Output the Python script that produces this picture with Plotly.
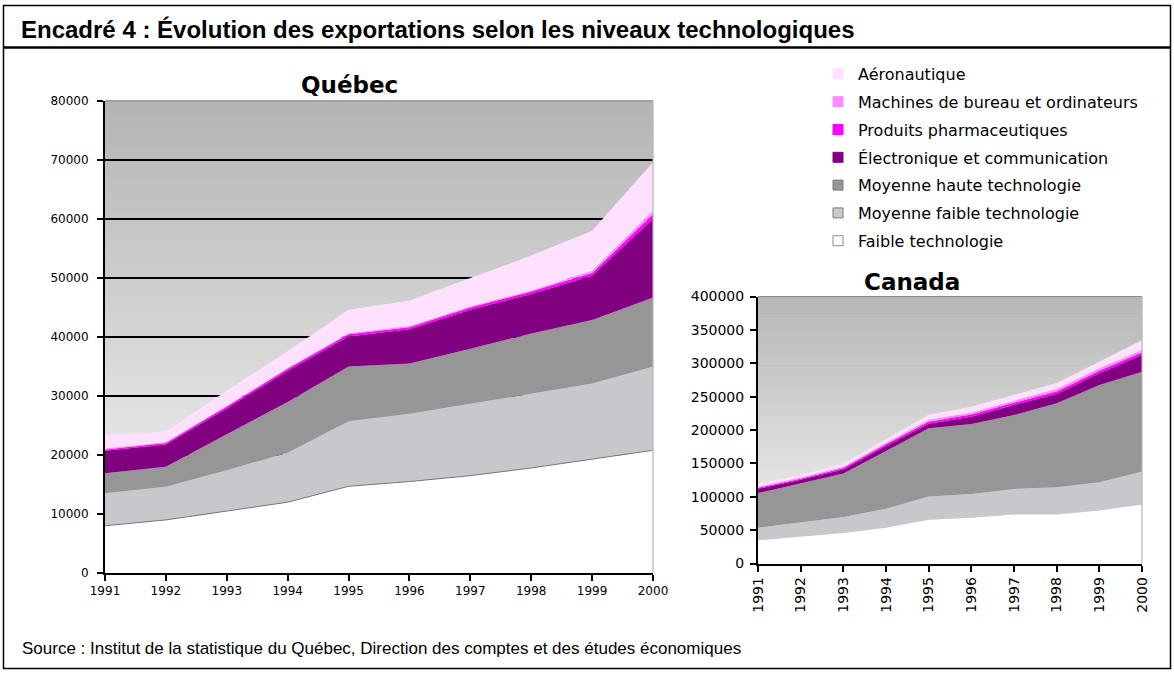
import plotly.graph_objects as go

# ---------------- data ----------------
years = [1991, 1992, 1993, 1994, 1995, 1996, 1997, 1998, 1999, 2000]

names = [
    "Faible technologie",
    "Moyenne faible technologie",
    "Moyenne haute technologie",
    "Électronique et communication",
    "Produits pharmaceutiques",
    "Machines de bureau et ordinateurs",
    "Aéronautique",
]

# Québec (stack order bottom -> top)
qc_faible = [8000, 9000, 10500, 12000, 14700, 15500, 16500, 17800, 19300, 20800]
qc_moy_faible = [5500, 5600, 6900, 8400, 11000, 11500, 12200, 12600, 12800, 14200]
qc_moy_haute = [3400, 3400, 6100, 8600, 9300, 8500, 9300, 10200, 10800, 11700]
qc_electronique = [3800, 3800, 4400, 5300, 5100, 5800, 6600, 6700, 7500, 13300]
qc_pharma = [250, 250, 300, 300, 350, 350, 400, 400, 450, 800]
qc_machines = [150, 150, 150, 200, 200, 200, 200, 200, 400, 600]
qc_aero = [2300, 1800, 2550, 2800, 3950, 4350, 4800, 5900, 6750, 8200]

# Canada (stack order bottom -> top)
ca_faible = [34800, 39700, 45700, 53600, 65500, 68500, 73500, 73500, 79400, 88400]
ca_moy_faible = [18800, 22300, 23800, 28400, 34800, 35800, 38200, 40700, 42300, 49600]
ca_moy_haute = [51900, 58400, 65500, 86500, 102200, 104700, 110800, 125800, 145700, 149300]
ca_electronique = [6500, 5000, 6000, 7500, 7000, 11000, 15000, 14000, 17600, 25000]
ca_pharma = [1500, 1700, 2000, 2500, 3000, 3200, 3300, 3500, 3700, 3700]
ca_machines = [1500, 1800, 2000, 2500, 3000, 3200, 3200, 4000, 3700, 3700]
ca_aero = [4000, 3500, 5000, 5000, 7500, 8500, 8500, 9000, 9900, 15000]

y_ticks_qc = [0, 10000, 20000, 30000, 40000, 50000, 60000, 70000, 80000]
y_ticks_ca = [0, 50000, 100000, 150000, 200000, 250000, 300000, 350000, 400000]

# ---------------- style ----------------
colors = ["#ffffff", "#c9c7cc", "#969696", "#800080", "#ff00ff", "#ff8cff", "#ffe0ff"]
legend_borders = ["#8a8a8a", "#7a7a7a", "#7a7a7a", "#800080", "#ff00ff", "#ff8cff", "#ffe0ff"]

W, H = 1174, 673


def px(x):
    return x / W


def py(y):
    return 1 - y / H


qc_series = [qc_faible, qc_moy_faible, qc_moy_haute, qc_electronique, qc_pharma, qc_machines, qc_aero]
ca_series = [ca_faible, ca_moy_faible, ca_moy_haute, ca_electronique, ca_pharma, ca_machines, ca_aero]

fig = go.Figure()

for i, (nm, vals) in enumerate(zip(names, qc_series)):
    fig.add_trace(go.Scatter(
        x=years, y=vals, name=nm, stackgroup="qc", mode="lines",
        line=dict(width=1 if i == 0 else 0, color="#777777" if i == 0 else colors[i]),
        fillcolor=colors[i], showlegend=False, xaxis="x", yaxis="y",
    ))

for i, (nm, vals) in enumerate(zip(names, ca_series)):
    fig.add_trace(go.Scatter(
        x=years, y=vals, name=nm, stackgroup="ca", mode="lines",
        line=dict(width=0, color=colors[i]),
        fillcolor=colors[i], showlegend=False, xaxis="x2", yaxis="y2",
    ))

# legend entries (top -> bottom: Aéronautique ... Faible)
for i in reversed(range(len(names))):
    fig.add_trace(go.Scatter(
        x=[None], y=[None], mode="markers", name=names[i], legendgroup=names[i],
        marker=dict(symbol="square", size=10, color=colors[i],
                    line=dict(width=1, color=legend_borders[i])),
        showlegend=True, xaxis="x", yaxis="y",
    ))

tickfont_qc = dict(family="DejaVu Sans", size=12, color="black")
tickfont_ca = dict(family="DejaVu Sans", size=14, color="black")

fig.update_layout(
    width=W, height=H,
    margin=dict(l=0, r=0, t=0, b=0, pad=0, autoexpand=False),
    paper_bgcolor="white",
    plot_bgcolor="rgba(0,0,0,0)",
    showlegend=True,
    legend=dict(
        x=px(818), y=py(57), xanchor="left", yanchor="top",
        traceorder="grouped", tracegroupgap=4,
        font=dict(family="DejaVu Sans", size=16, color="black"),
        bgcolor="rgba(0,0,0,0)", itemwidth=30,
    ),
    xaxis=dict(
        domain=[px(105), px(653)], range=[1991, 2000], tickvals=years,
        ticks="outside", ticklen=6, tickwidth=1.5, tickcolor="black",
        showline=True, linecolor="black", linewidth=2, showgrid=False,
        zeroline=False, tickfont=tickfont_qc, anchor="y", automargin=False,
    ),
    yaxis=dict(
        domain=[py(573), py(101)], range=[0, 80000], tickvals=y_ticks_qc,
        tickformat="d", ticks="outside", ticklen=6, tickwidth=1.5, tickcolor="black",
        ticklabelstandoff=6,
        showline=True, linecolor="black", linewidth=2,
        showgrid=True, gridcolor="black", gridwidth=1.5,
        zeroline=False, tickfont=tickfont_qc, anchor="x", automargin=False,
    ),
    xaxis2=dict(
        domain=[px(758), px(1142)], range=[1991, 2000], tickvals=years,
        tickangle=-90,
        ticks="outside", ticklen=6, tickwidth=1.5, tickcolor="black",
        showline=True, linecolor="black", linewidth=2, showgrid=False,
        zeroline=False, tickfont=tickfont_ca, anchor="y2", automargin=False,
    ),
    yaxis2=dict(
        domain=[py(563.5), py(296.5)], range=[0, 400000], tickvals=y_ticks_ca,
        tickformat="d", ticks="outside", ticklen=6, tickwidth=1.5, tickcolor="black",
        ticklabelstandoff=3,
        showline=True, linecolor="black", linewidth=2, showgrid=False,
        zeroline=False, tickfont=tickfont_ca, anchor="x2", automargin=False,
    ),
)

shapes = []


def gradient(xref, yref, top, bottom, n=60):
    out = []
    for k in range(n):
        t = (k + 0.5) / n  # 0 bottom -> 1 top
        c = [round(bottom[j] + (top[j] - bottom[j]) * t) for j in range(3)]
        out.append(dict(
            type="rect", xref=xref, yref=yref, x0=0, x1=1,
            y0=k / n, y1=(k + 1) / n + 0.002, layer="below",
            line=dict(width=0), fillcolor="rgb(%d,%d,%d)" % tuple(c),
        ))
    return out


shapes += gradient("x domain", "y domain", (180, 180, 180), (247, 247, 247))
shapes += gradient("x2 domain", "y2 domain", (182, 182, 182), (247, 247, 247))

# gray plot-area borders (top and right)
for xr, yr in (("x domain", "y domain"), ("x2 domain", "y2 domain")):
    shapes.append(dict(type="line", xref=xr, yref=yr, x0=0, x1=1, y0=1, y1=1,
                       line=dict(color="#8c8c8c", width=1.2), layer="above"))
    shapes.append(dict(type="line", xref=xr, yref=yr, x0=1, x1=1, y0=0, y1=1,
                       line=dict(color="#b4b4b4", width=1.2), layer="above"))

# outer frame and title rule
shapes.append(dict(type="rect", xref="paper", yref="paper",
                   x0=px(3.5), x1=px(1170.5), y0=py(668.5), y1=py(5.5),
                   line=dict(color="black", width=1.5), fillcolor="rgba(0,0,0,0)"))
shapes.append(dict(type="line", xref="paper", yref="paper",
                   x0=px(3.5), x1=px(1170.5), y0=py(47.5), y1=py(47.5),
                   line=dict(color="black", width=2.5)))

fig.update_layout(shapes=shapes)

annotations = [
    dict(text="<b>Encadré 4 : Évolution des exportations selon les niveaux technologiques</b>",
         x=px(19), y=py(30), xref="paper", yref="paper", xanchor="left", yanchor="middle",
         showarrow=False, font=dict(family="Liberation Sans", size=24, color="black")),
    dict(text="<b>Québec</b>", x=px(349), y=py(85), xref="paper", yref="paper",
         xanchor="center", yanchor="middle", showarrow=False,
         font=dict(family="DejaVu Sans", size=23, color="black")),
    dict(text="<b>Canada</b>", x=px(912), y=py(282), xref="paper", yref="paper",
         xanchor="center", yanchor="middle", showarrow=False,
         font=dict(family="DejaVu Sans", size=23, color="black")),
    dict(text="Source : Institut de la statistique du Québec, Direction des comptes et des études économiques",
         x=px(20), y=py(648), xref="paper", yref="paper", xanchor="left", yanchor="middle",
         showarrow=False, font=dict(family="Liberation Sans", size=17, color="black")),
]
fig.update_layout(annotations=annotations)

fig.write_html(
    "out.html",
    config={"displayModeBar": False},
    post_script="document.body.style.margin='0';document.body.style.overflow='hidden';",
)
